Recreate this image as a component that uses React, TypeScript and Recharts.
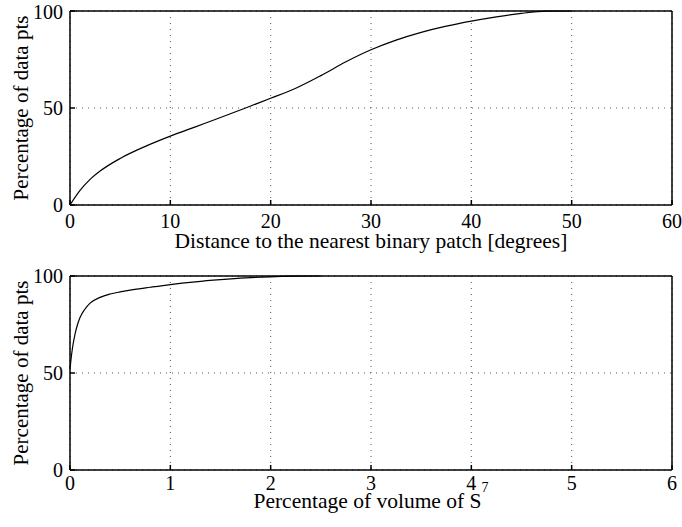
import React from 'react';
import { LineChart, Line, XAxis, YAxis, CartesianGrid } from 'recharts';

// top panel: distance to nearest binary patch (degrees) vs % of data pts
const distDeg = [0, 1, 2, 3, 5, 7.5, 10, 12.5, 15, 17.5, 20, 22.5, 25, 27.5, 30, 32.5, 35, 37.5, 40, 42.5, 45, 47.5, 50];
const distPct = [0, 7.5, 13.2, 17.5, 24, 30.2, 35.5, 40.3, 45.1, 50, 55, 60.2, 66.7, 73.8, 80, 85, 89, 92.2, 94.8, 97, 98.8, 99.9, 100];

// bottom panel: % of volume of S^7 vs % of data pts
const volPctS7 = [0, 0.01, 0.025, 0.05, 0.075, 0.1, 0.15, 0.2, 0.3, 0.4, 0.5, 0.6, 0.8, 1, 1.25, 1.5, 1.75, 2, 2.25, 2.5];
const volDataPct = [52, 57, 63, 70, 75, 78.6, 83, 86, 89, 90.7, 91.8, 92.7, 94.2, 95.6, 97, 98.1, 99, 99.6, 99.9, 100];

const distTicks = [0, 10, 20, 30, 40, 50, 60];
const volTicks = [0, 1, 2, 3, 4, 5, 6];
const pctTicks = [0, 50, 100];

const FONT = '"Liberation Serif", "Times New Roman", serif';
const W = 682;

const topData = distDeg.map((x, i) => ({ x, y: distPct[i] }));
const bottomData = volPctS7.map((x, i) => ({ x, y: volDataPct[i] }));

const tickStyle = { fill: '#000', fontSize: 20, fontFamily: FONT };

const XLabel = ({ plotBottom, dy, children }: { plotBottom: number; dy: number; children: React.ReactNode }) => (
  <text x={(70 + 672) / 2} y={plotBottom + dy} textAnchor="middle" fontSize={21.5} fontFamily={FONT} fill="#000">
    {children}
  </text>
);

const YLabel = ({ cy }: { cy: number }) => (
  <text
    transform={`translate(28, ${cy}) rotate(-90)`}
    textAnchor="middle"
    fontSize={21}
    fontFamily={FONT}
    fill="#000"
  >
    Percentage of data pts
  </text>
);

type PanelProps = {
  data: { x: number; y: number }[];
  xMax: number;
  xTicks: number[];
  height: number;
  marginTop: number;
  tickGap: number;
  xLabel: React.ReactElement;
};

const Panel = ({ data, xMax, xTicks, height, marginTop, tickGap, xLabel }: PanelProps) => {
  const plotTop = marginTop + 1;
  const plotBottom = height - 57;
  return (
    <LineChart width={W} height={height} data={data} margin={{ top: marginTop, right: 9, bottom: 0, left: 0 }}>
      <CartesianGrid stroke="#555" strokeDasharray="1 5" />
      <XAxis
        type="number"
        dataKey="x"
        domain={[0, xMax]}
        ticks={xTicks}
        height={57}
        stroke="#000"
        strokeWidth={1.5}
        tickSize={-5}
        tickMargin={tickGap}
        tick={tickStyle}
        label={xLabel}
      />
      <XAxis
        xAxisId="top"
        orientation="top"
        type="number"
        domain={[0, xMax]}
        ticks={xTicks}
        height={1}
        stroke="#000"
        strokeWidth={1.5}
        tickSize={-5}
        tick={false}
      />
      <YAxis
        type="number"
        domain={[0, 100]}
        ticks={pctTicks}
        width={70}
        stroke="#000"
        strokeWidth={1.5}
        tickSize={-5}
        tickMargin={12}
        tick={tickStyle}
        label={<YLabel cy={(plotTop + plotBottom) / 2} />}
      />
      <YAxis
        yAxisId="right"
        orientation="right"
        type="number"
        domain={[0, 100]}
        ticks={pctTicks}
        width={1}
        stroke="#000"
        strokeWidth={1.5}
        tickSize={-5}
        tick={false}
      />
      <Line type="monotone" dataKey="y" stroke="#000" strokeWidth={1.2} dot={false} isAnimationActive={false} />
    </LineChart>
  );
};

export default function App() {
  return (
    <div style={{ position: 'absolute', left: 0, top: 0, width: W, height: 527, background: '#fff' }}>
      <Panel
        data={topData}
        xMax={60}
        xTicks={distTicks}
        height={262}
        marginTop={10}
        tickGap={14}
        xLabel={<XLabel plotBottom={205} dy={43}>Distance to the nearest binary patch [degrees]</XLabel>}
      />
      <Panel
        data={bottomData}
        xMax={6}
        xTicks={volTicks}
        height={265}
        marginTop={13}
        tickGap={11}
        xLabel={
          <XLabel plotBottom={208} dy={38}>
            Percentage of volume of S<tspan dy={-16} fontSize={14}>7</tspan>
          </XLabel>
        }
      />
    </div>
  );
}
